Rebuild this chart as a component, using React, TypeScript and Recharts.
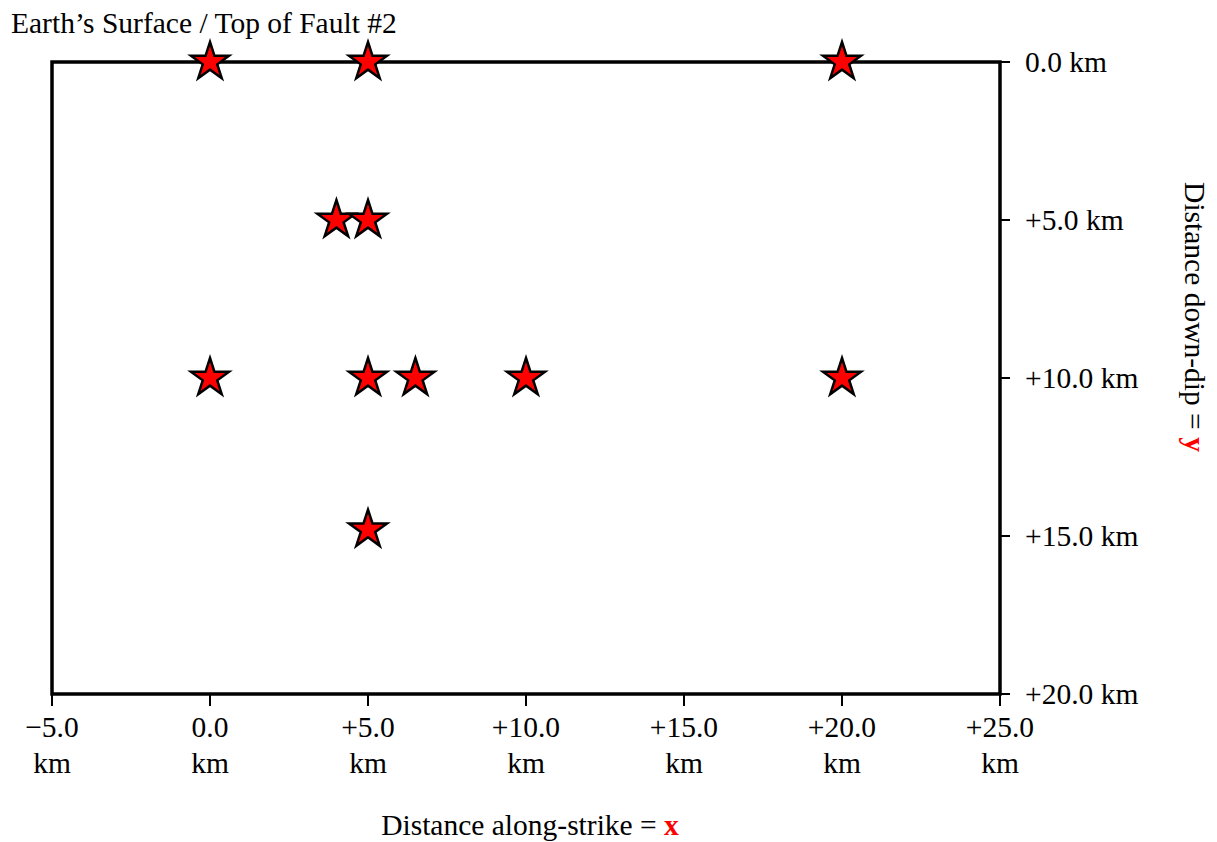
import { ScatterChart, Scatter, XAxis, YAxis, ReferenceArea } from 'recharts';

const alongStrike = [0, 5, 20, 4, 5, 0, 5, 6.5, 10, 20, 5];
const downDip = [0, 0, 0, 5, 5, 10, 10, 10, 10, 10, 14.8];
const xTicks = [-5, 0, 5, 10, 15, 20, 25];
const yTicks = [0, 5, 10, 15, 20];

const points = alongStrike.map((x, i) => ({ x, y: downDip[i] }));

const FONT = '"Liberation Serif", "Times New Roman", serif';
const FS = 29.5;

const fmt = (v: number) => (v < 0 ? `\u2212${Math.abs(v).toFixed(1)}` : v > 0 ? `+${v.toFixed(1)}` : v.toFixed(1));

function starPath(cx: number, cy: number, R: number) {
  const r = R * 0.382;
  let d = '';
  for (let i = 0; i < 10; i++) {
    const rad = i % 2 === 0 ? R : r;
    const a = -Math.PI / 2 + (i * Math.PI) / 5;
    d += `${i === 0 ? 'M' : 'L'}${cx + rad * Math.cos(a)},${cy + rad * Math.sin(a)}`;
  }
  return d + 'Z';
}

const Star = (props: any) => (
  <path d={starPath(props.cx, props.cy, 20)} fill="#ff0000" stroke="#000" strokeWidth={2.5} strokeLinejoin="miter" />
);

const XTick = (props: any) => {
  const { x, y, payload } = props;
  return (
    <text x={x} y={y} textAnchor="middle" fontFamily={FONT} fontSize={FS} fill="#000">
      <tspan x={x} dy={31}>{fmt(payload.value)}</tspan>
      <tspan x={x} dy={36}>km</tspan>
    </text>
  );
};

const YTick = (props: any) => {
  const { x, y, payload } = props;
  return (
    <text x={x} y={y} dy="0.35em" textAnchor="start" fontFamily={FONT} fontSize={FS} fill="#000">
      {fmt(payload.value)} km
    </text>
  );
};

export default function App() {
  return (
    <ScatterChart width={1209} height={834} margin={{ top: 54, right: 67, bottom: 48, left: 44 }}>
      <XAxis
        type="number"
        dataKey="x"
        domain={[-5, 25]}
        ticks={xTicks}
        axisLine={false}
        tickLine={{ stroke: '#000', strokeWidth: 2 }}
        tickSize={12}
        tickMargin={0}
        tick={<XTick />}
        height={100}
        interval={0}
      />
      <YAxis
        type="number"
        dataKey="y"
        orientation="right"
        reversed
        domain={[0, 20]}
        ticks={yTicks}
        axisLine={false}
        tickLine={{ stroke: '#000', strokeWidth: 2 }}
        tickSize={10}
        tickMargin={15}
        tick={<YTick />}
        width={150}
        interval={0}
      />
      <ReferenceArea x1={-5} x2={25} y1={0} y2={20} fill="none" fillOpacity={0} stroke="#000" strokeWidth={3.5} />
      <Scatter data={points} shape={<Star />} isAnimationActive={false} />
      <text x={3} y={25} fontFamily={FONT} fontSize={FS} fill="#000">
        Earth’s Surface / Top of Fault #2
      </text>
      <text x={522} y={827} textAnchor="middle" fontFamily={FONT} fontSize={FS} fill="#000">
        Distance along-strike = <tspan fill="#ff0000" fontWeight="bold">x</tspan>
      </text>
      <text
        x={1177}
        y={309}
        textAnchor="middle"
        fontFamily={FONT}
        fontSize={FS}
        fill="#000"
        transform="rotate(90, 1177, 309)"
      >
        Distance down-dip = <tspan fill="#ff0000" fontWeight="bold">y</tspan>
      </text>
    </ScatterChart>
  );
}
